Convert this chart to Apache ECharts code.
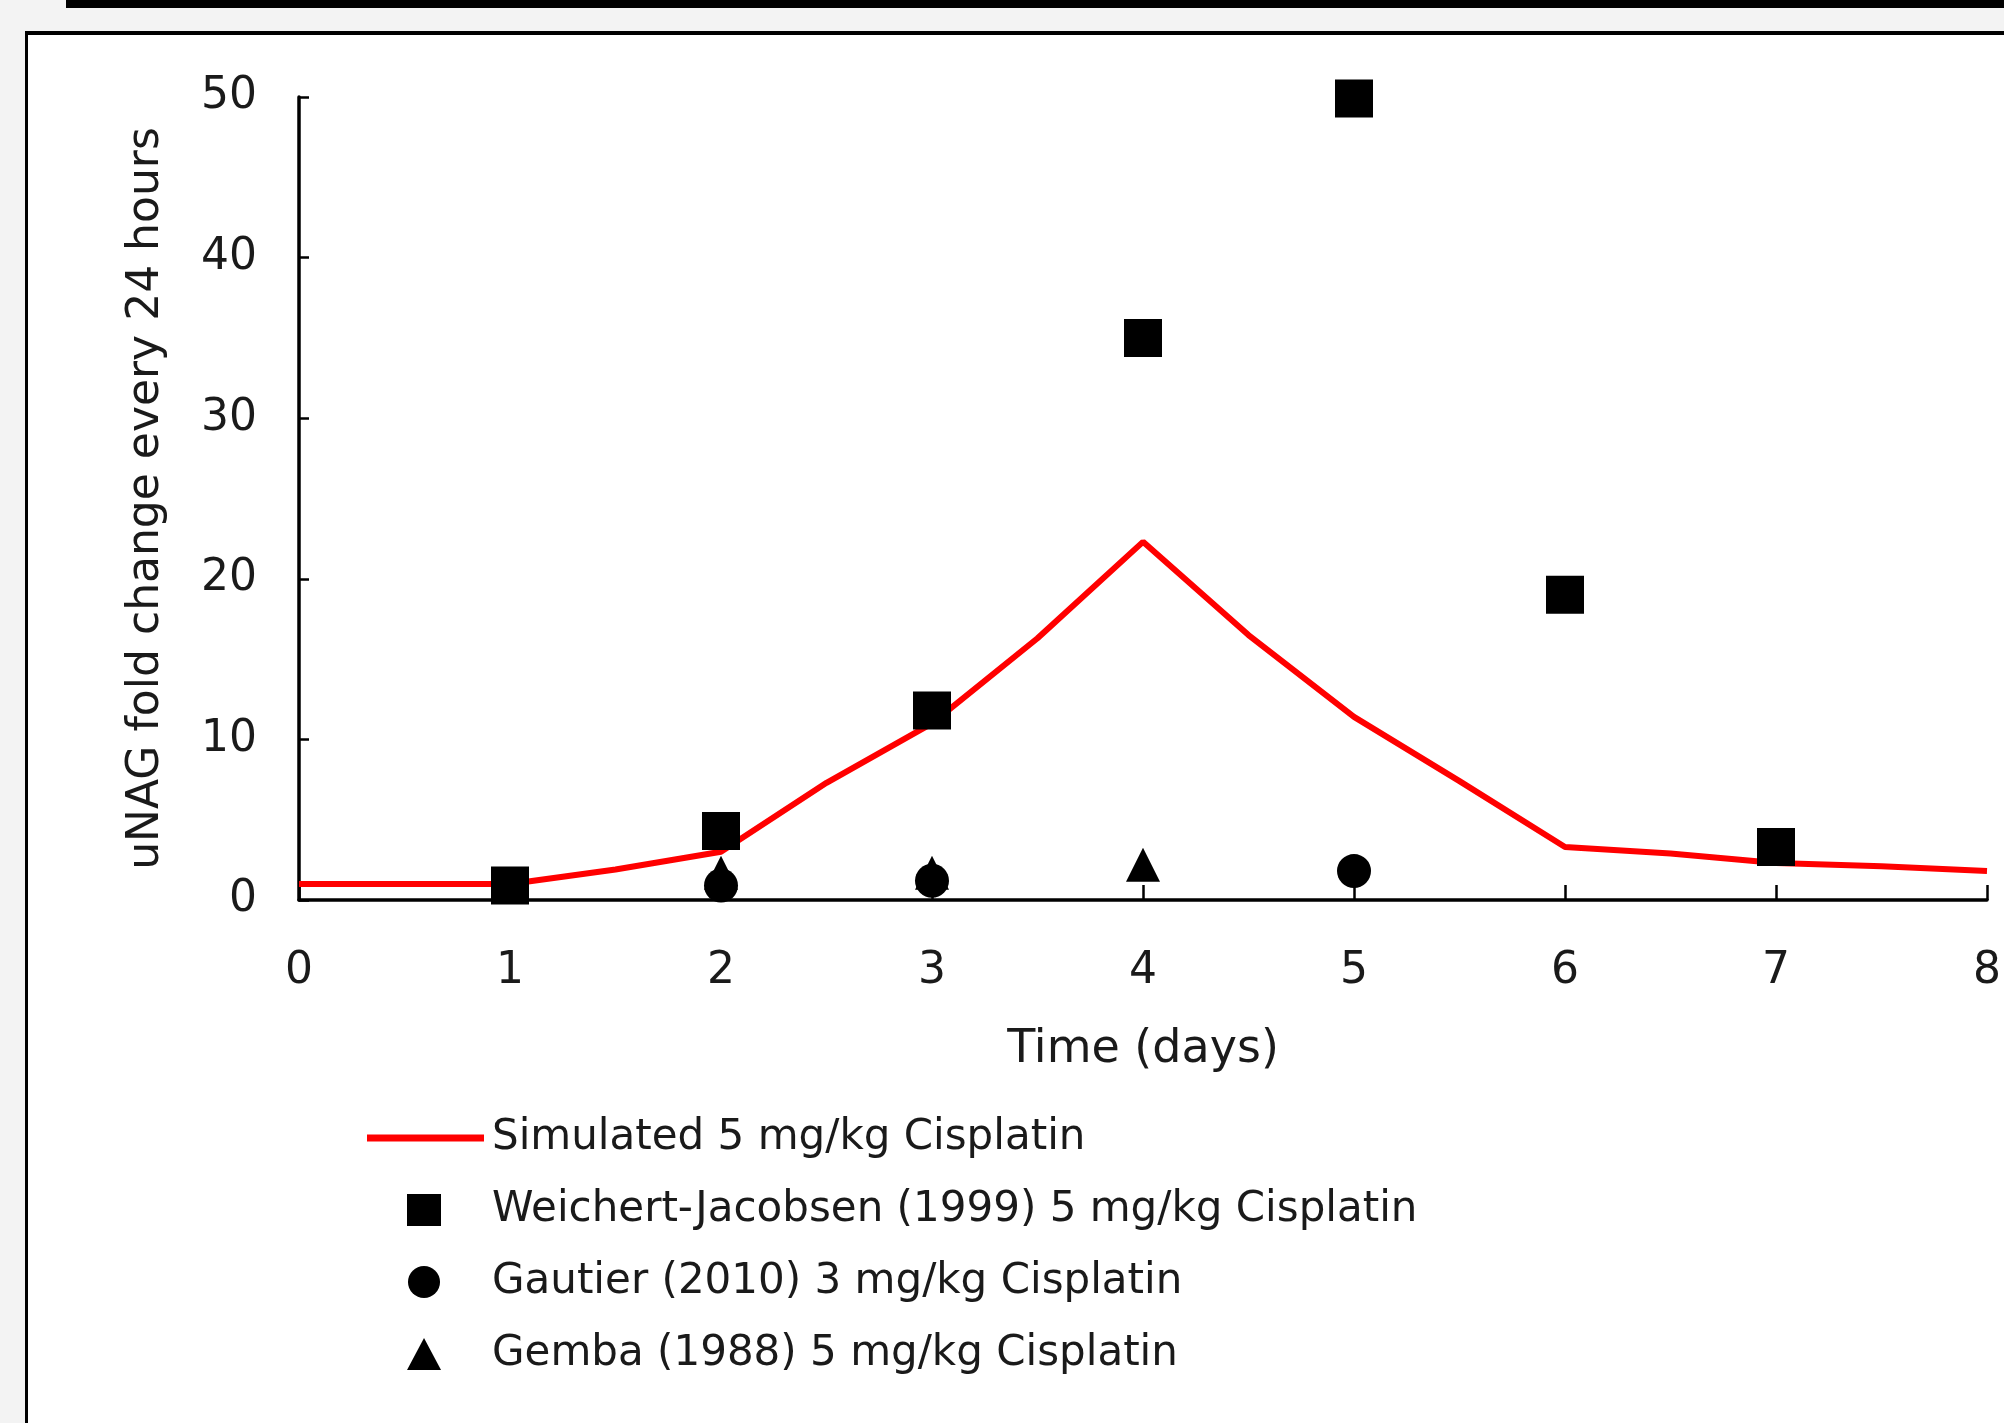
<!DOCTYPE html>
<html>
<head>
<meta charset="utf-8">
<script src="https://cdn.jsdelivr.net/npm/echarts@6/dist/echarts.min.js"></script>
<style>
  html, body { margin: 0; padding: 0; background: #f3f3f3; }
  #topbar { position: absolute; left: 66px; top: 0; width: 1938px; height: 8px; background: #000; }
  #frame { position: absolute; left: 25px; top: 31px; width: 1976px; height: 1389px;
    border-top: 4px solid #000; border-left: 3px solid #000; background: #fff; }
  #main { position: absolute; left: 0; top: 0; width: 2004px; height: 1423px; }
</style>
</head>
<body>
<div id="topbar"></div>
<div id="frame"></div>
<div id="main"></div>
<script>
// simulated uNAG fold change (days, fold)
const simDays = [0, 1, 1.5, 2, 2.5, 3, 3.5, 4, 4.5, 5, 5.5, 6, 6.5, 7, 7.5, 8]
const simFold = [1, 1, 1.9, 3.0, 7.3, 11.0, 16.3, 22.3, 16.5, 11.4, 7.4, 3.3, 2.9, 2.3, 2.1, 1.8]

// observed data
const weichertDays = [1, 2, 3, 4, 5, 6, 7]
const weichertFold = [0.9, 4.3, 11.8, 35.0, 49.9, 19.0, 3.3]
const gautierDays = [2, 3, 5]
const gautierFold = [0.9, 1.2, 1.8]
const gembaDays = [2, 3, 4]
const gembaFold = [1.7, 1.7, 2.2]

const names = [
  'Simulated 5 mg/kg Cisplatin',
  'Weichert-Jacobsen (1999) 5 mg/kg Cisplatin',
  'Gautier (2010) 3 mg/kg Cisplatin',
  'Gemba (1988) 5 mg/kg Cisplatin'
]

const pair = (xs, ys) => xs.map((x, i) => [x, ys[i]])
const font = '"DejaVu Sans", "Noto Sans", sans-serif'
const textColor = '#1a1a1a'

const legendText = {
  fontSize: 42,
  color: textColor,
  fontFamily: font,
  lineHeight: 40
}

function initChart() {
  const myChart = echarts.init(document.getElementById('main'))
  const option = {
    backgroundColor: 'transparent',
    animation: false,
    textStyle: { fontFamily: font },
    grid: {
      left: 299,
      right: 11,
      top: 97,
      bottom: 523
    },
    legend: [
      {
        // line entry
        left: 362,
        top: 1112,
        itemWidth: 117,
        itemHeight: 7,
        textStyle: { ...legendText, padding: [0, 0, 0, 3] },
        data: [{ name: names[0], icon: 'rect', itemStyle: { color: '#ff0000' } }]
      },
      {
        // marker entries
        orient: 'vertical',
        left: 402,
        top: 1184,
        itemWidth: 34,
        itemHeight: 32,
        itemGap: 30,
        textStyle: { ...legendText, padding: [0, 0, 0, 46] },
        data: [
          { name: names[1], icon: 'rect' },
          { name: names[2], icon: 'circle' },
          { name: names[3], icon: 'triangle' }
        ]
      }
    ],
    xAxis: {
      type: 'value',
      min: 0,
      max: 8,
      interval: 1,
      name: 'Time (days)',
      nameLocation: 'middle',
      nameGap: 127,
      nameTextStyle: { fontSize: 46, color: textColor },
      axisLine: { onZero: false, lineStyle: { color: '#000', width: 3.5 } },
      axisTick: { inside: true, length: 15, lineStyle: { color: '#000', width: 2.5 } },
      axisLabel: { fontSize: 44, color: textColor, margin: 50 },
      splitLine: { show: false }
    },
    yAxis: {
      type: 'value',
      min: 0,
      max: 50,
      interval: 10,
      name: 'uNAG fold change every 24 hours',
      nameLocation: 'middle',
      nameGap: 130,
      nameTextStyle: { fontSize: 44, color: textColor },
      axisLine: { show: true, lineStyle: { color: '#000', width: 3.5 } },
      axisTick: { show: true, inside: true, length: 10, lineStyle: { color: '#000', width: 2.5 } },
      axisLabel: { fontSize: 44, color: textColor, margin: 42 },
      splitLine: { show: false }
    },
    series: [
      {
        name: names[0],
        type: 'line',
        data: pair(simDays, simFold),
        symbol: 'none',
        showSymbol: false,
        lineStyle: { color: '#ff0000', width: 6 },
        itemStyle: { color: '#ff0000' },
        z: 2
      },
      {
        name: names[1],
        type: 'scatter',
        data: pair(weichertDays, weichertFold),
        symbol: 'rect',
        symbolSize: 38,
        itemStyle: { color: '#000', opacity: 1 },
        z: 3
      },
      {
        name: names[3],
        type: 'scatter',
        data: pair(gembaDays, gembaFold),
        symbol: 'triangle',
        symbolSize: [34, 34],
        itemStyle: { color: '#000', opacity: 1 },
        z: 3
      },
      {
        name: names[2],
        type: 'scatter',
        data: pair(gautierDays, gautierFold),
        symbol: 'circle',
        symbolSize: 34,
        itemStyle: { color: '#000', opacity: 1 },
        z: 4
      }
    ]
  }
  myChart.setOption(option, true)
}

initChart()
</script>
</body>
</html>
